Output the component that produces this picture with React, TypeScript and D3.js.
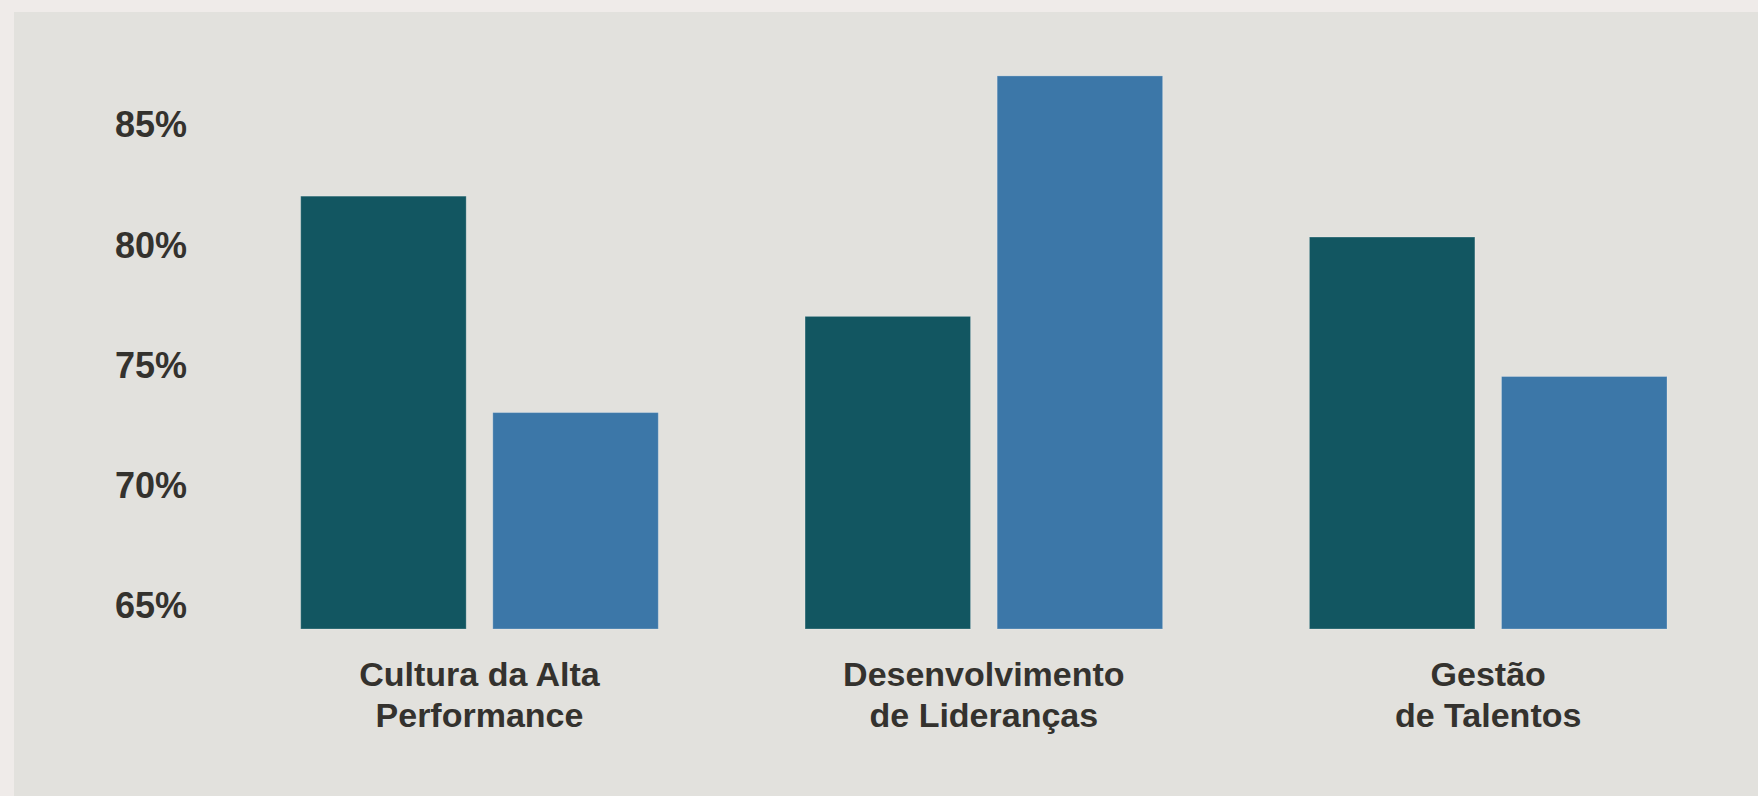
import React from 'react';
import * as d3 from 'd3';

// chart data
const categories = ['Cultura da Alta Performance', 'Desenvolvimento de Lideranças', 'Gestão de Talentos'];
const categoryLines = [
  ['Cultura da Alta', 'Performance'],
  ['Desenvolvimento', 'de Lideranças'],
  ['Gestão', 'de Talentos'],
];
const seriesNames = ['a', 'b'];
const seriesA = [82, 77, 80.3];
const seriesB = [73, 87, 74.5];
const yTicks = [65, 70, 75, 80, 85];

const colors: Record<string, string> = { a: '#125661', b: '#3c77a8' };

const W = 1758;
const H = 796;
const font = '"Liberation Sans", Arial, sans-serif';
const textColor = '#34322e';

const App = () => {
  const x0 = d3.scaleBand<string>()
    .domain(categories)
    .range([300.7, 1667])
    .paddingInner(0.291)
    .paddingOuter(0);

  const x1 = d3.scaleBand<string>()
    .domain(seriesNames)
    .range([0, x0.bandwidth()])
    .paddingInner(0.1385);

  const y = d3.scaleLinear()
    .domain([64, 85])
    .range([629, 124]);

  const rows = categories.map((c, i) => ({
    category: c,
    lines: categoryLines[i],
    values: [
      { key: 'a', value: seriesA[i] },
      { key: 'b', value: seriesB[i] },
    ],
  }));

  const base = y.domain()[0];

  return (
    <svg width={W} height={H} style={{ position: 'absolute', left: 0, top: 0 }}>
      <rect x={0} y={0} width={W} height={H} fill="#efebe9" />
      <rect x={14} y={12} width={W - 14} height={H - 12} fill="#e2e1dd" />

      {/* y tick labels */}
      <g>
        {yTicks.map(t => (
          <text
            key={t}
            x={187}
            y={y(t)}
            dy="0.37em"
            textAnchor="end"
            fontFamily={font}
            fontWeight="bold"
            fontSize={36}
            fill={textColor}
          >
            {t}%
          </text>
        ))}
      </g>

      {/* bars */}
      {rows.map(r => (
        <g key={r.category} transform={`translate(${x0(r.category)},0)`}>
          {r.values.map(v => (
            <rect
              key={v.key}
              x={x1(v.key)}
              y={y(v.value)}
              width={x1.bandwidth()}
              height={y(base) - y(v.value)}
              fill={colors[v.key]}
              stroke="rgba(255,255,255,0.25)"
              strokeWidth={1}
            />
          ))}
          <text
            x={x0.bandwidth() / 2}
            y={y(base) + 57}
            textAnchor="middle"
            fontFamily={font}
            fontWeight="bold"
            fontSize={34}
            fill={textColor}
          >
            {r.lines.map((l, i) => (
              <tspan key={i} x={x0.bandwidth() / 2} dy={i === 0 ? 0 : 41.3}>{l}</tspan>
            ))}
          </text>
        </g>
      ))}
    </svg>
  );
};

export default App;
